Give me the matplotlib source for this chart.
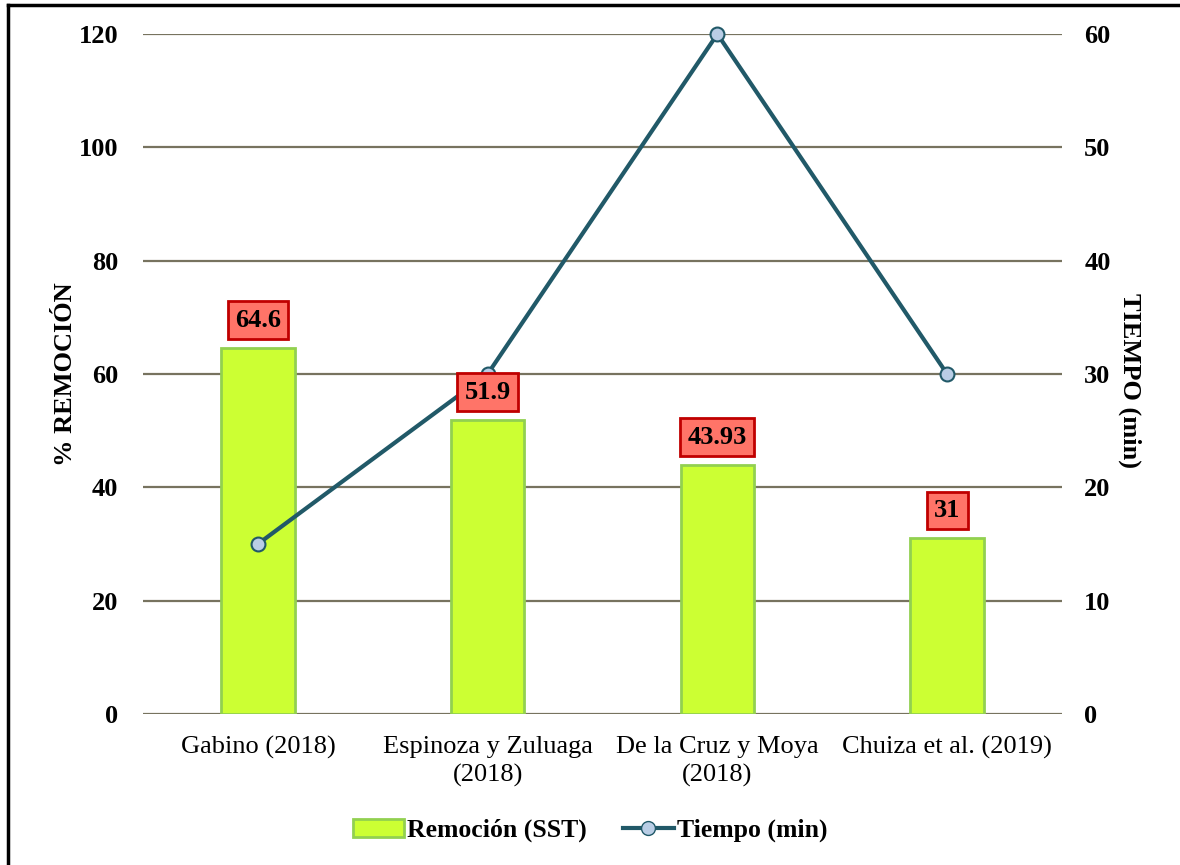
import numpy as np
import matplotlib.pyplot as plt
from matplotlib.lines import Line2D

plt.rcParams['font.family'] = ['Liberation Serif', 'DejaVu Serif']

categorias = ['Gabino (2018)', 'Espinoza y Zuluaga\n(2018)',
              'De la Cruz y Moya\n(2018)', 'Chuiza et al. (2019)']
remocion = [64.6, 51.9, 43.93, 31]
etiquetas = ['64.6', '51.9', '43.93', '31']
tiempo = [15, 30, 60, 30]

fig = plt.figure(figsize=(11.8, 8.65), dpi=100)
ax = fig.add_axes([0.1212, 0.1746, 0.7788, 0.786])
ax2 = ax.twinx()

x = np.arange(len(categorias))
grid_col = '#77735f'

# bars
ax.bar(x, remocion, width=0.32, color='#ccff33', edgecolor='#92d050',
       linewidth=2, zorder=3)
ax.set_ylim(0, 120)
ax.set_yticks(np.arange(0, 121, 20))
ax.set_xlim(-0.5, len(categorias) - 0.5)
ax.set_xticks(x)
ax.set_xticklabels(categorias, fontsize=19, linespacing=1.3)
ax.yaxis.grid(True, color=grid_col, linewidth=1.6, zorder=0)
ax.set_axisbelow(True)
for s in ax.spines.values():
    s.set_visible(False)
for s in ax2.spines.values():
    s.set_visible(False)
ax.tick_params(axis='x', length=0, pad=16)
ax.tick_params(axis='y', length=0, labelsize=19, pad=18)
for t in ax.get_yticklabels():
    t.set_fontweight('bold')
ax.set_ylabel('% REMOCIÓN', fontsize=19, fontweight='bold')
ax.yaxis.set_label_coords(-0.072, 0.5)

# line on secondary axis
ax2.plot(x, tiempo, color='#215968', linewidth=3, marker='o',
         markersize=10, markerfacecolor='#b9cde5', markeredgecolor='#215968',
         markeredgewidth=1.5, zorder=4, clip_on=False)
ax2.set_ylim(0, 60)
ax2.set_yticks(np.arange(0, 61, 10))
ax2.tick_params(length=0, labelsize=19, pad=16)
for t in ax2.get_yticklabels():
    t.set_fontweight('bold')
ax2.set_ylabel('TIEMPO (min)', fontsize=19, fontweight='bold', rotation=-90,
               va='center')
ax2.yaxis.set_label_coords(1.074, 0.49)

# data labels, drawn above the line
for xi, v, lab in zip(x, remocion, etiquetas):
    ax2.annotate(lab, (xi, v), xycoords=ax.transData, xytext=(0, 20),
                 textcoords='offset points', ha='center', va='center',
                 fontsize=19, fontweight='bold', zorder=10,
                 bbox=dict(boxstyle='square,pad=0.28', facecolor='#ff7468',
                           edgecolor='#c00000', linewidth=2))

# legend
handles = [plt.Rectangle((0, 0), 1, 1, facecolor='#ccff33', edgecolor='#92d050', linewidth=2),
           Line2D([], [], color='#215968', linewidth=3, marker='o', markersize=10,
                  markerfacecolor='#b9cde5', markeredgecolor='#215968')]
fig.legend(handles, ['Remoción (SST)', 'Tiempo (min)'], loc='center',
           bbox_to_anchor=(0.5, 0.04), ncol=2, frameon=False,
           prop={'size': 18.5, 'weight': 'bold'}, handlelength=2.0,
           handletextpad=0.1, columnspacing=1.4)

# border top and left
fig.add_artist(Line2D([0.0065, 0.0065], [0, 0.994], color='black', linewidth=2.5,
                      transform=fig.transFigure))
fig.add_artist(Line2D([0.0065, 1], [0.994, 0.994], color='black', linewidth=2.5,
                      transform=fig.transFigure))

fig.savefig('out.png', dpi=100)
